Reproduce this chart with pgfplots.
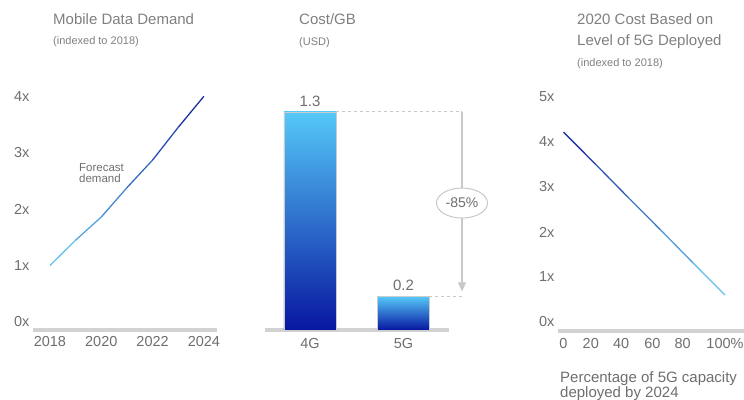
\documentclass[border=0pt]{standalone}
\usepackage{pgfplots}
\pgfplotsset{compat=1.18}
\usepackage{fontspec}
\setmainfont{Liberation Sans}
\usetikzlibrary{arrows.meta,shapes.geometric}
\definecolor{titlegray}{HTML}{7F7F7F}
\definecolor{tickgray}{HTML}{6E6E6E}
\definecolor{axisgray}{HTML}{D2D2D2}
\definecolor{dashgray}{HTML}{C8C8C8}
\definecolor{barTop}{HTML}{55C8F8}
\definecolor{barBot}{HTML}{0716A0}
\newcommand\titlefont{\fontsize{15bp}{18bp}\selectfont}
\newcommand\subfont{\fontsize{11bp}{13bp}\selectfont}
\newcommand\tickfont{\fontsize{14.5bp}{17bp}\selectfont}
\newcommand\notefont{\fontsize{11.5bp}{11bp}\selectfont}
\pgfplotsset{
  panel/.style={
    scale only axis, anchor=south west, clip=false,
    axis x line*=bottom, axis y line*=left,
    axis line style={-},
    x axis line style={draw=axisgray, line width=3.5bp, -},
    y axis line style={draw=none},
    major tick length=0pt,
    tick style={draw=none},
    ticklabel style={font=\tickfont, text=tickgray},
    /pgf/number format/assume math mode=true,
  },
  barstyle/.style={ybar, bar shift=0pt, top color=barTop, bottom color=barBot, draw=gray!40, line width=0.6bp,
    nodes near coords,
    nodes near coords style={font=\titlefont, text=tickgray, yshift=2bp, /pgf/number format/fixed,
      /pgf/number format/precision=1, /pgf/number format/fixed zerofill}},
}
\begin{document}
\begin{tikzpicture}[x=1bp,y=1bp]
\useasboundingbox (0,0) rectangle (744bp,400bp);
% ---------- Chart 1 ----------
\begin{axis}[panel, at={(33bp,70bp)}, width=184bp, height=245bp,
  xmin=2017.34, xmax=2024.51, ymin=-0.142, ymax=4.2,
  xtick={2018,2020,2022,2024}, xticklabels={2018,2020,2022,2024},
  ytick={0,1,2,3,4}, yticklabels={0x,1x,2x,3x,4x},
  xticklabel style={yshift=-3bp},
  colormap={up}{rgb255=(108,207,246) rgb255=(20,35,154)},
]
\addplot[mesh, point meta=x, line width=1.3bp] coordinates {
  (2018,1.0) (2019,1.45) (2020,1.86) (2021,2.38) (2022,2.87) (2023,3.45) (2024,4.0)};
\end{axis}
\node[anchor=base west, inner sep=0, font=\titlefont, text=titlegray] at (53bp,375bp) {Mobile Data Demand};
\node[anchor=base west, inner sep=0, font=\subfont, text=titlegray] at (53bp,355bp) {(indexed to 2018)};
\node[anchor=base west, inner sep=0, font=\notefont, text=tickgray] at (79bp,228bp) {Forecast};
\node[anchor=base west, inner sep=0, font=\notefont, text=tickgray] at (79bp,217bp) {demand};
% ---------- Chart 2 ----------
\begin{axis}[panel, at={(265bp,70bp)}, width=184bp, height=234.8bp,
  xmin=-0.481, xmax=1.487, ymin=0, ymax=1.4,
  xtick={0,1}, xticklabels={4G,5G}, ytick=\empty,
  xticklabel style={yshift=-5bp},
  ybar, bar width=52bp,
]
\addplot[barstyle] coordinates {(0,1.3)};
\addplot[barstyle] coordinates {(1,0.2)};
\draw[dashgray, dashed, line width=1bp] (axis cs:0.278,1.3) -- (axis cs:1.626,1.3);
\draw[dashgray, dashed, line width=1bp] (axis cs:1.278,0.2) -- (axis cs:1.626,0.2);
\draw[dashgray, line width=1.2bp, -{Triangle[width=8bp,length=9bp]}] (axis cs:1.626,1.3) -- (axis cs:1.626,0.23);
\node[ellipse, draw=dashgray, line width=1bp, fill=white, minimum width=51bp, minimum height=30bp, inner sep=0,
  font=\fontsize{14bp}{16bp}\selectfont, text=tickgray] at (axis cs:1.626,0.757) {-85\%};
\end{axis}
\node[anchor=base west, inner sep=0, font=\titlefont, text=titlegray] at (299bp,375.5bp) {Cost/GB};
\node[anchor=base west, inner sep=0, font=\subfont, text=titlegray] at (299bp,354bp) {(USD)};
% ---------- Chart 3 ----------
\begin{axis}[panel, at={(558bp,69bp)}, width=188bp, height=243bp,
  xmin=-3.4, xmax=113, ymin=-0.2, ymax=5.2,
  xtick={0,20,40,60,80,100},
  xticklabels={0,{20\hspace*{10bp}},{40\hspace*{14bp}},{60\hspace*{16bp}},{80\hspace*{20bp}},100\%},
  ytick={0,1,2,3,4,5}, yticklabels={0x,1x,2x,3x,4x,5x},
  xticklabel style={yshift=-4bp},
  colormap={down}{rgb255=(20,35,154) rgb255=(108,207,246)},
]
\addplot[mesh, point meta=x, line width=1.3bp] coordinates {
  (0,4.22) (20,3.5) (40,2.77) (60,2.05) (80,1.32) (100,0.6)};
\end{axis}
\node[anchor=base west, inner sep=0, font=\titlefont, text=titlegray] at (577bp,375bp) {2020 Cost Based on};
\node[anchor=base west, inner sep=0, font=\titlefont, text=titlegray] at (577bp,354bp) {Level of 5G Deployed};
\node[anchor=base west, inner sep=0, font=\subfont, text=titlegray] at (577bp,333bp) {(indexed to 2018)};
\node[anchor=base west, inner sep=0, font=\titlefont, text=tickgray] at (560bp,18bp) {Percentage of 5G capacity};
\node[anchor=base west, inner sep=0, font=\titlefont, text=tickgray] at (560bp,3bp) {deployed by 2024};
\end{tikzpicture}
\end{document}
